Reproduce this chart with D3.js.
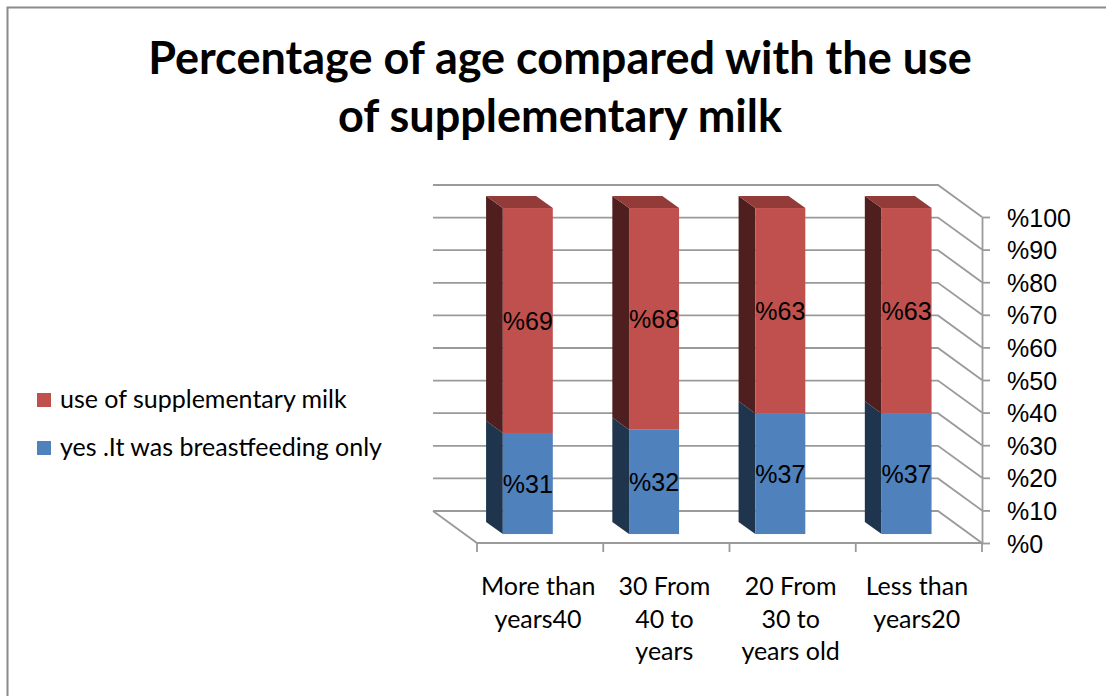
<!DOCTYPE html>
<html>
<head>
<meta charset="utf-8">
<script src="https://cdn.jsdelivr.net/npm/d3@7/dist/d3.min.js"></script>
<style>
  html, body { margin: 0; padding: 0; background: #fff; }
  svg { display: block; }
</style>
</head>
<body>
<svg id="chart" width="1106" height="696"></svg>
<script>
// Age groups (x categories) and their multi-line tick labels
const categories = ["More than years40", "30 From 40 to years", "20 From 30 to years old", "Less than years20"];
const categoryLines = [["More than", "years40"], ["30 From", "40 to", "years"], ["20 From", "30 to", "years old"], ["Less than", "years20"]];

// Series values (percent)
const breastfeedingOnly = [31, 32, 37, 37];
const supplementaryMilk = [69, 68, 63, 63];

// Value axis ticks
const yTicks = [0, 10, 20, 30, 40, 50, 60, 70, 80, 90, 100];

const seriesNames = ["use of supplementary milk", "yes .It was breastfeeding only"];
const colors = {
  red:  { front: "#C0504D", side: "#4E1F1E", top: "#923B38" },
  blue: { front: "#4F81BD", side: "#1F344D", top: "#3A6392" }
};

const svg = d3.select("#chart");
const W = 1106, H = 696;

// Outer frame (left and top edges)
svg.append("path")
  .attr("d", `M7.5,${H} V7.5 H${W}`)
  .attr("fill", "none")
  .attr("stroke", "#8a8a8a")
  .attr("stroke-width", 2);

// Title
const title = svg.append("text")
  .attr("text-anchor", "middle")
  .attr("font-family", "Lato, 'Open Sans', sans-serif")
  .attr("font-weight", "bold")
  .attr("font-size", 45)
  .attr("fill", "#000");
title.append("tspan").attr("x", 560).attr("y", 74).text("Percentage of age compared with the use");
title.append("tspan").attr("x", 560).attr("y", 132).text("of supplementary milk");

// 3D plot geometry: front plane scales plus a depth offset
const x = d3.scaleBand().domain(categories).range([477, 982]);
const y = d3.scaleLinear().domain([0, 100]).range([543, 217]);
const DX = -44, DY = -32;          // full depth offset of back wall
const tFront = 0.28, tBack = 0.66; // bar front / back depth fraction
const barHalf = 25;

const proj = (px, v, t) => [px + DX * t, y(v) + DY * t];
const pts = arr => arr.map(p => p.join(",")).join(" ");

const grid = svg.append("g")
  .attr("stroke", "#9a9a9a")
  .attr("stroke-width", 1.8)
  .attr("fill", "none");

const [x0, x1] = x.range();

// Back wall gridlines and right wall diagonals
yTicks.forEach(v => {
  const a = proj(x0, v, 1), b = proj(x1, v, 1), c = proj(x1, v, 0);
  grid.append("polyline").attr("points", pts([a, b, c]));
});

// Floor edges
grid.append("polyline").attr("points", pts([proj(x0, 0, 1), proj(x0, 0, 0), proj(x1, 0, 0)]));

// Category boundary ticks below the floor
const bounds = categories.map(c => x(c)).concat([x1]);
bounds.forEach(bx => {
  grid.append("line")
    .attr("x1", bx).attr("x2", bx)
    .attr("y1", y(0)).attr("y2", y(0) + 9);
});

// Value axis on the right
const yAxis = d3.axisRight(y)
  .tickValues(yTicks)
  .tickFormat(d => "%" + d)
  .tickSize(8)
  .tickSizeOuter(0)
  .tickPadding(17);

const axisG = svg.append("g")
  .attr("transform", `translate(${x1},0)`)
  .call(yAxis);
axisG.select(".domain").attr("stroke", "#9a9a9a").attr("stroke-width", 1.8);
axisG.selectAll(".tick line").attr("stroke", "#9a9a9a").attr("stroke-width", 1.8);
axisG.selectAll(".tick text")
  .attr("font-family", "'Liberation Sans', Arial, sans-serif")
  .attr("font-size", 25)
  .attr("fill", "#000")
  .attr("dy", "0.36em");

// Bars
const barsG = svg.append("g");
categories.forEach((c, i) => {
  const xc = x(c) + x.bandwidth() / 2;
  const left = xc - barHalf, right = xc + barHalf;
  const segs = [
    { v0: 0, v1: breastfeedingOnly[i], col: colors.blue },
    { v0: breastfeedingOnly[i], v1: breastfeedingOnly[i] + supplementaryMilk[i], col: colors.red }
  ];
  segs.forEach((s, k) => {
    // left side face
    barsG.append("polygon")
      .attr("points", pts([proj(left, s.v0, tFront), proj(left, s.v1, tFront), proj(left, s.v1, tBack), proj(left, s.v0, tBack)]))
      .attr("fill", s.col.side);
    // top face of the topmost segment
    if (k === segs.length - 1) {
      barsG.append("polygon")
        .attr("points", pts([proj(left, s.v1, tFront), proj(right, s.v1, tFront), proj(right, s.v1, tBack), proj(left, s.v1, tBack)]))
        .attr("fill", s.col.top);
    }
    // front face
    const pTL = proj(left, s.v1, tFront), pBR = proj(right, s.v0, tFront);
    barsG.append("rect")
      .attr("x", pTL[0]).attr("y", pTL[1])
      .attr("width", pBR[0] - pTL[0]).attr("height", pBR[1] - pTL[1])
      .attr("fill", s.col.front);
  });
  // value labels
  const vals = [breastfeedingOnly[i], supplementaryMilk[i]];
  segs.forEach((s, k) => {
    const p = proj(xc, (s.v0 + s.v1) / 2, tFront);
    barsG.append("text")
      .attr("x", p[0]).attr("y", p[1])
      .attr("dy", "0.36em")
      .attr("text-anchor", "middle")
      .attr("font-family", "'Liberation Sans', Arial, sans-serif")
      .attr("font-size", 25)
      .attr("fill", "#000")
      .text("%" + vals[k]);
  });
});

// Category labels
const catG = svg.append("g")
  .attr("font-family", "Lato, 'Open Sans', sans-serif")
  .attr("font-size", 25)
  .attr("text-anchor", "middle")
  .attr("fill", "#000");
categories.forEach((c, i) => {
  const xc = x(c) + x.bandwidth() / 2 - 2;
  const t = catG.append("text");
  categoryLines[i].forEach((line, j) => {
    t.append("tspan").attr("x", xc).attr("y", 595 + j * 32.5).text(line);
  });
});

// Legend
const legend = svg.append("g")
  .attr("font-family", "Lato, 'Open Sans', sans-serif")
  .attr("font-size", 25)
  .attr("fill", "#000");
[colors.red.front, colors.blue.front].forEach((col, k) => {
  const cy = 400 + k * 48;
  legend.append("rect")
    .attr("x", 37).attr("y", cy - 7).attr("width", 14).attr("height", 14)
    .attr("fill", col);
  legend.append("text")
    .attr("x", 60).attr("y", cy + 8)
    .text(seriesNames[k]);
});
</script>
</body>
</html>
